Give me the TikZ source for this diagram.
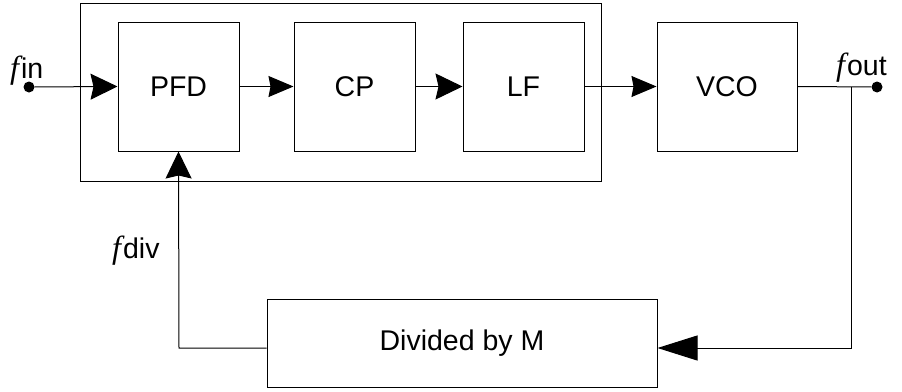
\documentclass[tikz,border=0pt]{standalone}
\usepackage{fontspec}
\setmainfont{Liberation Sans}
\newfontfamily\fsym{Liberation Serif}
\usetikzlibrary{arrows.meta}
\newcommand{\fit}{{\fsym\itshape\fontsize{32}{36}\selectfont f}\kern2pt}
\begin{document}
\begin{tikzpicture}[x=1pt,y=-1pt,
  blk/.style={draw,line width=1pt,minimum width=121pt,minimum height=129pt,inner sep=0pt,font=\fontsize{28.5}{32}\selectfont},
  wire/.style={line width=1pt},
  bigtip/.style={-{Stealth[length=27pt,width=26pt,inset=3pt]}},
  midtip/.style={-{Stealth[length=25pt,width=21pt,inset=2pt]}},
  longtip/.style={-{Stealth[length=40pt,width=25pt,inset=0pt]}},
  lbl/.style={font=\fontsize{28.5}{32}\selectfont,inner sep=0pt},
  dot/.style={circle,fill,inner sep=0pt,minimum size=11pt}]
\useasboundingbox (0,0) rectangle (902,391);
% enclosing frame around PFD, CP and LF
\draw[line width=1pt] (80,3) rectangle (601,181);
% blocks
\node[blk] (pfd) at (178.5,86.5) {PFD};
\node[blk] (cp)  at (354.5,86.5) {CP};
\node[blk] (lf)  at (523.5,86.5) {LF};
\node[blk,minimum width=140pt] (vco) at (727,86.5) {VCO};
\node[blk,minimum width=390pt,minimum height=88pt] (div) at (462,343) {Divided by M};
% terminals
\node[dot] (in)  at (29,87) {};
\node[dot] (out) at (877,87) {};
\coordinate (tap) at (851,87);
\coordinate (tapdn) at (851,348);
\coordinate (fbl) at (179,348);
% labels
\node[lbl,anchor=base west] (fin)  at (10,78)  {\fit in};
\node[lbl,anchor=base west] (fout) at (836,75) {\fit out};
\node[lbl,anchor=base west] (fdiv) at (112,258) {\fit div};
% forward path
\draw[wire,bigtip] (in) -- (pfd.west);
\draw[wire,midtip] (pfd.east) -- (cp.west);
\draw[wire,bigtip] (cp.east) -- (lf.west);
\draw[wire,midtip] (lf.east) -- (vco.west);
\draw[wire] (vco.east) -- (out);
% feedback path
\draw[wire,longtip] (tap) -- (tapdn) -- (div.east |- tapdn);
\draw[wire,bigtip] (div.west |- fbl) -- (fbl) -- (pfd.south);
\end{tikzpicture}
\end{document}
